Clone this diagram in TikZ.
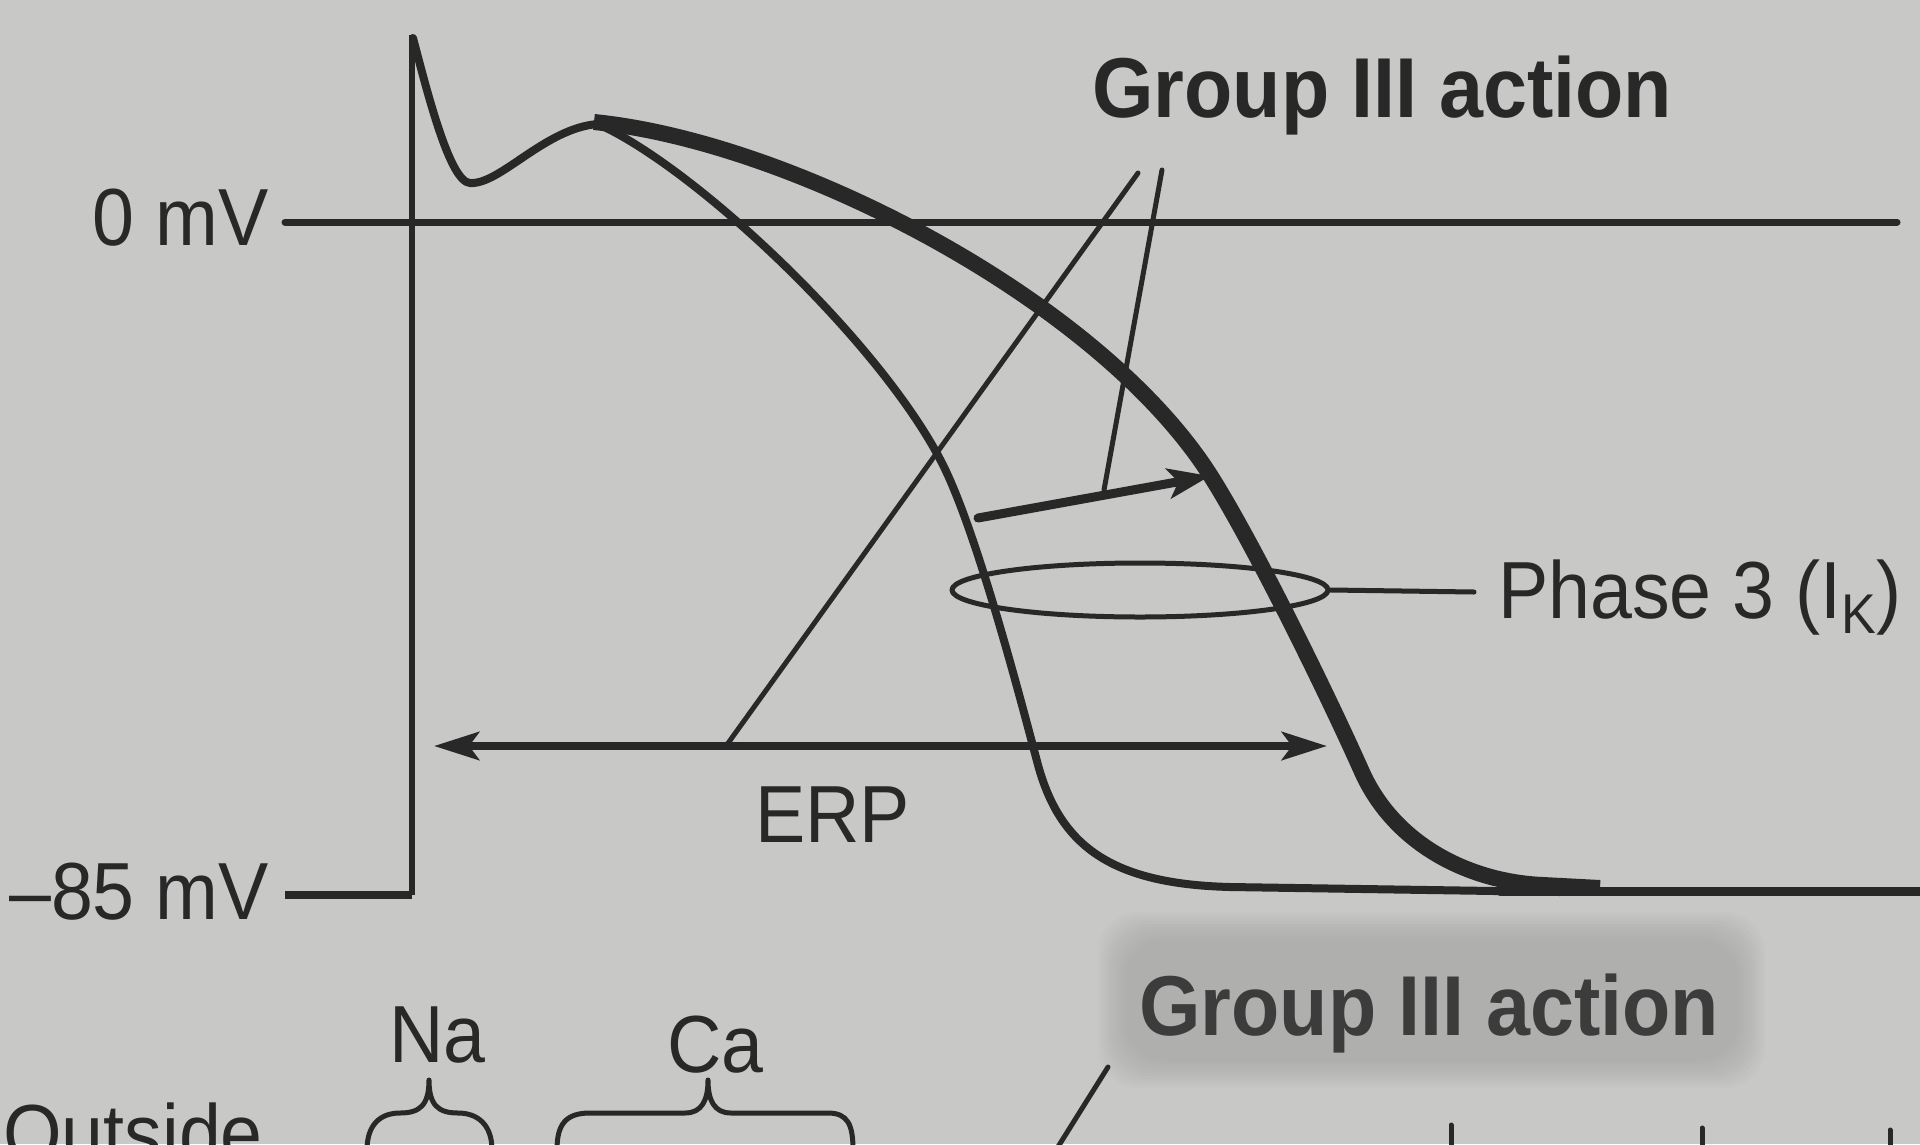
\documentclass[tikz,border=0pt]{standalone}
\usepackage{fontspec}
\setmainfont[FakeStretch=0.93]{Liberation Sans}
\usetikzlibrary{arrows.meta,shapes.geometric}
\definecolor{paper}{RGB}{200,200,198}
\definecolor{ink}{RGB}{40,40,40}
\definecolor{inktwo}{RGB}{60,60,60}
\definecolor{shadebox}{RGB}{140,140,138}
\begin{document}
\begin{tikzpicture}[x=1pt,y=-1pt, line cap=round, line join=round,
  lbl/.style={inner sep=0pt, text=ink, font=\fontsize{81}{90}\selectfont},
  blbl/.style={inner sep=0pt, text=ink, font=\fontsize{85}{90}\selectfont\bfseries},
  axisline/.style={draw=ink, line width=6pt},
  thincurve/.style={draw=ink, line width=8pt},
  thickcurve/.style={draw=ink, line width=16pt},
  leader/.style={draw=ink, line width=5pt},
  erparrow/.style={draw=ink, line width=8pt, {Stealth[length=45pt,width=28pt,inset=10pt]}-{Stealth[length=45pt,width=28pt,inset=10pt]}},
  shiftarrow/.style={draw=ink, line width=9pt, -{Stealth[length=42pt,width=30pt,inset=10pt]}},
  bracepath/.style={draw=ink, line width=5pt}]
\useasboundingbox (0,0) rectangle (1920,1144);
\fill[paper] (0,0) rectangle (1920,1144);
\clip (0,0) rectangle (1920,1144);
% soft shaded patch behind lower label
\foreach \k in {0,...,9} {
  \fill[shadebox, opacity=0.045, rounded corners=40pt]
    ({1098+3*\k},{912+3*\k}) rectangle ({1765-3*\k},{1088-3*\k});
}

% labels
\node[lbl, anchor=base east] (zero) at (269,245) {0 mV};
\node[lbl, anchor=base east] (m85) at (269,919) {–85 mV};
\node[lbl, anchor=base west] (erp) at (755,842) {ERP};
\node[lbl, anchor=base west] (ph) at (1498,618) {Phase 3 (I\raisebox{-15pt}{\fontsize{56}{56}\selectfont K})};
\node[blbl, anchor=base west] (g1) at (1092,117) {Group III action};
\node[blbl, anchor=base west, text=inktwo] (g2) at (1139,1035) {Group III action};
\node[lbl, anchor=base west] (na) at (389,1062) {Na};
\node[lbl, anchor=base west] (ca) at (667,1072) {Ca};
\node[lbl, anchor=base west] (out) at (3,1161) {Outside};

% coordinates
\coordinate (zl) at (285,222);
\coordinate (zr) at (1897,222);
\coordinate (bl) at (285,895);
\coordinate (ax) at (412,895);
\coordinate (top) at (412,35);
\coordinate (erpL) at (434,746);
\coordinate (erpR) at (1327,746);
\coordinate (ga1) at (1138,173);
\coordinate (ga1e) at (726,746);
\coordinate (ga2) at (1162,170);
\coordinate (ga2e) at (1104,490);
\coordinate (arT) at (978,518);
\coordinate (arH) at (1210,476);
\coordinate (phend) at (1474,592);
\coordinate (slA) at (1108,1067);
\coordinate (slB) at (1056,1150);

% axes
\draw[axisline, line width=7pt] (zl) -- (zr);
\draw[axisline, line width=8pt, line cap=butt] (bl) -- (ax);
\draw[axisline, line cap=butt] (ax) -- (top);

% spike and plateau
\draw[thincurve] (413,38) .. controls (428,95) and (450,182) .. (470,183)
  .. controls (500,185) and (545,128) .. (598,124);
% normal action potential (thin)
\draw[thincurve] (598,124) .. controls (698,169) and (883,345) .. (943,465)
  .. controls (978,535) and (1022,705) .. (1038,765)
  .. controls (1060,845) and (1110,884) .. (1230,887)
  -- (1560,892);
% prolonged action potential (thick)
\draw[thickcurve, line cap=butt] (594,122) .. controls (794,142) and (1102,302) .. (1212,478)
  .. controls (1257,550) and (1330,700) .. (1362,772)
  .. controls (1395,845) and (1470,882) .. (1543,885) -- (1600,888);
\draw[draw=ink, line width=9pt] (1500,891) -- (1925,891);

% ERP
\draw[erparrow] (erpL) -- (erpR);
% Group III leaders
\draw[leader] (ga1) -- (ga1e);
\draw[leader] (ga2) -- (ga2e);
\draw[shiftarrow] (arT) -- (arH);

% phase 3 ellipse
\node[ellipse, draw=ink, line width=5pt, minimum width=376pt, minimum height=54pt, inner sep=0pt] (ell) at (1140,590) {};
\draw[leader] (ell.east) -- (phend);

% braces
\draw[bracepath] (367,1150) .. controls (367,1125) and (380,1113) .. (400,1113)
  .. controls (420,1113) and (429,1105) .. (429,1080)
  .. controls (429,1105) and (438,1113) .. (458,1113)
  .. controls (478,1113) and (492,1125) .. (492,1150);
\draw[bracepath] (557,1150) .. controls (557,1125) and (565,1113) .. (590,1113) -- (685,1113)
  .. controls (702,1113) and (708,1100) .. (708,1080)
  .. controls (708,1100) and (714,1113) .. (731,1113) -- (828,1113)
  .. controls (848,1113) and (853,1125) .. (853,1150);

% bottom fragments
\draw[leader] (slA) -- (slB);
\coordinate (t1a) at (1451,1125); \coordinate (t1b) at (1451,1150);
\coordinate (t2a) at (1702,1128); \coordinate (t2b) at (1702,1150);
\coordinate (t3a) at (1890,1130); \coordinate (t3b) at (1890,1150);
\draw[leader] (t1a) -- (t1b);
\draw[leader] (t2a) -- (t2b);
\draw[leader] (t3a) -- (t3b);
\end{tikzpicture}
\end{document}
